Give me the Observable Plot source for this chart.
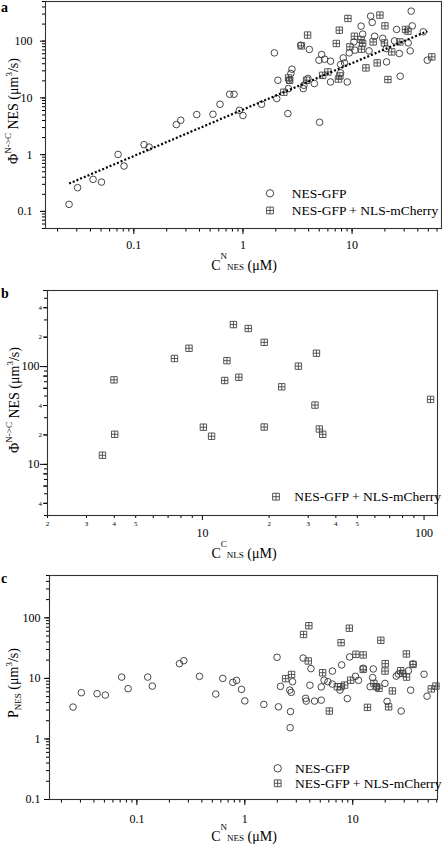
<!DOCTYPE html>
<html><head><meta charset="utf-8">
<script src="https://cdn.jsdelivr.net/npm/d3@7"></script>
<script src="https://cdn.jsdelivr.net/npm/@observablehq/plot@0.6"></script>
<style>
body{margin:0;background:#fff;}
#wrap{position:relative;width:442px;height:844px;overflow:hidden;}
#wrap svg{position:absolute;left:0;overflow:visible;}
</style></head><body><div id="wrap"></div>
<script>
// ---------- Panel a : Phi(N->C) vs C^N_NES ----------
const aGfpX = [0.0255,0.0305,0.0423,0.0505,0.0717,0.0813,0.124,0.138,0.245,0.269,0.377,0.531,0.616,0.755,0.828,0.927,1.0,1.48,1.94,2.04,2.09,2.58,2.61,2.66,2.75,2.81,3.38,3.57,3.62,3.94,4.06,4.51,4.97,5.04,5.26,5.60,6.35,6.35,7.85,7.85,8.30,8.54,9.03,9.42,10.4,10.6,12.1,12.5,14.3,14.8,15.3,16.1,19.1,20.6,20.7,24.5,25.6,27.1,27.6,32.7,34.1,34.8,35.6,44.9,48.9];
const aGfpY = [0.133,0.262,0.367,0.329,1.01,0.63,1.50,1.36,3.39,4.04,5.09,5.15,7.73,11.6,11.6,6.05,4.89,7.73,62.2,9.75,20.5,5.3,14.6,20.5,26.9,32.1,85,14.6,16.7,22.0,71.4,17.9,46.2,3.72,58.3,48.1,44.4,19.1,38.8,27.6,50.7,41.4,19.1,62.2,97,69.4,184,133,67.4,276,214,122,112,74.3,43.1,101,161,60.7,24.1,93.3,67.4,338,186,146,46.2];
const aMchX = [2.37,2.68,2.62,3.43,3.83,3.91,5.37,6.0,7.17,7.64,7.73,7.5,9.16,9.55,10.5,12.1,12.5,12.2,13.4,15.6,17.0,18.0,19.8,20.0,21.3,23.1,27.4,30.9,32.5,53.8];
const aMchY = [12.6,20.5,22.5,82.6,20.5,128,25,28.7,91,156,24.4,21.5,251,79.4,122,107,91,72.3,33.8,97,41.4,288,93,186,21.1,64.7,97,161,150,52.8];
const aFitX = [0.0255, 49];
const aFitY = [0.31, 150];

// ---------- Panel b : Phi(N->C) vs C^C_NLS ----------
const bMchX = [3.99,4.02,3.54,7.48,8.70,10.1,11.0,12.6,12.9,13.8,14.6,16.1,19.0,19.0,22.8,27.1,32.7,32.2,33.7,34.9,107];
const bMchY = [73.2,20.3,12.4,121,154,24.0,19.4,72.1,115,269,77.8,245,177,24.1,62.1,101,137,40.4,23.0,20.3,46.2];

// ---------- Panel c : P_NES vs C^N_NES ----------
const cGfpX = [0.0256,0.0306,0.0428,0.0510,0.0723,0.0829,0.126,0.139,0.248,0.272,0.380,0.538,0.625,0.774,0.838,0.932,1.0,1.50,1.99,2.05,2.14,2.61,2.69,2.65,2.63,2.77,3.47,3.66,3.71,4.01,4.10,4.43,5.11,5.11,5.43,5.89,6.48,6.47,7.61,7.89,8.91,9.36,10.6,11.3,12.5,15.5,15.3,14.5,16.7,19.9,20.8,25.3,26.5,32.8,36.2,34.4,45.8,48.8,28.1];
const cGfpY = [3.36,5.80,5.59,5.30,10.5,6.76,10.5,7.46,17.5,19.6,10.8,5.51,10.0,8.59,9.27,6.58,4.25,3.72,22.3,3.39,7.38,6.41,5.87,2.83,1.53,8.81,21.7,4.68,4.22,7.71,14.5,4.22,4.37,7.23,9.33,8.81,13.2,8.05,6.41,16.7,4.64,22.6,10.8,9.27,14.7,14.3,10.3,7.29,7.2,8.26,4.17,10.9,11.8,13.4,17.3,6.38,11.7,5.08,2.89];
const cMchX = [3.50,3.92,9.30,7.80,18.2,10.7,12.5,31.4,2.39,2.71,3.87,5.26,6.07,7.20,7.77,8.41,9.56,20.0,19.9,12.5,13.7,15.7,16.6,17.5,23.3,21.5,27.8,29.0,31.5,36.2,53.4,59.0];
const cMchY = [53.1,74.1,67.4,38.9,42.6,25.0,24.4,25.3,9.9,11.6,19.4,12.4,2.89,7.29,7.29,7.75,9.33,17.5,13.2,14.1,3.32,8.26,7.29,6.84,6.21,3.39,13.4,12.1,10.5,17.0,6.70,7.46];

// ---------- ticks & labels ----------
const aXTicks = [0.1, 1, 10];
const aYTicks = [0.1, 1, 10, 100];
const bXTicks = [10, 100];
const bXMinorLabeled = [2,3,4,5,6,7,8,9,20,30,40,50,60,70,80,90];
const bYTicks = [10, 100];
const bYMinorLabeled = [4,6,8,20,40,60,80,200,400,600];
const cXTicks = [0.1, 1, 10];
const cYTicks = [0.1, 1, 10, 100];
const legendLabels = ["NES-GFP", "NES-GFP + NLS-mCherry"];
const panelLetters = ["a", "b", "c"];

const FONT = '"Liberation Serif","Times New Roman",serif';
const wrap = document.getElementById("wrap");

const boxPlus = {
  draw(ctx, size) {
    const r = Math.sqrt(size / Math.PI);
    ctx.moveTo(-r, -r); ctx.lineTo(r, -r); ctx.lineTo(r, r); ctx.lineTo(-r, r); ctx.closePath();
    ctx.moveTo(0, -r); ctx.lineTo(0, r);
    ctx.moveTo(-r, 0); ctx.lineTo(r, 0);
  }
};

function pts(xs, ys) { return xs.map((x, i) => ({x, y: ys[i]})); }
function minorTicks(lo, hi) {
  const t = [];
  for (let e = Math.floor(Math.log10(lo)) - 1; e <= Math.ceil(Math.log10(hi)); e++) {
    for (let m = 1; m < 10; m++) {
      const v = +(m * Math.pow(10, e)).toPrecision(3);
      if (v >= lo * 0.999 && v <= hi * 1.001) t.push(v);
    }
  }
  return t;
}
const lead = d => String(Math.round(d / Math.pow(10, Math.floor(Math.log10(d) + 1e-9))));
const none = () => "";

function panel({top, height, mt, mb, ml, mr, xd, yd, marks}) {
  const svg = Plot.plot({
    width: 442, height, marginTop: mt, marginBottom: mb, marginLeft: ml, marginRight: mr,
    x: {type: "log", domain: xd, axis: null},
    y: {type: "log", domain: yd, axis: null},
    style: {fontFamily: FONT, fontSize: "12px", color: "#000", background: "none", overflow: "visible"},
    marks
  });
  svg.style.top = top + "px";
  wrap.appendChild(svg);
  return d3.select(svg);
}

function rich(sel, x, y, parts, rotate) {
  const t = sel.append("text")
    .attr("transform", `translate(${x},${y})` + (rotate ? " rotate(-90)" : ""))
    .attr("text-anchor", "middle").attr("font-family", FONT).attr("fill", "#000");
  let prev = 0;
  for (const p of parts) {
    const s = p.shift || 0;
    t.append("tspan").attr("dy", prev - s).attr("font-size", p.size).text(p.t);
    prev = s;
  }
}

function legend(sel, x, tx, rows) {
  rows.forEach(r => {
    if (r.kind === "circle") {
      sel.append("circle").attr("cx", x).attr("cy", r.y).attr("r", 3.7)
        .attr("fill", "none").attr("stroke", "#333").attr("stroke-width", 0.9);
    } else {
      sel.append("path").attr("transform", `translate(${x},${r.y})`)
        .attr("d", d3.symbol(boxPlus, Math.PI * 3.4 * 3.4)())
        .attr("fill", "none").attr("stroke", "#444").attr("stroke-width", 0.9);
    }
    sel.append("text").attr("x", tx).attr("y", r.y + 4.3).attr("font-family", FONT)
      .attr("text-anchor", "start")
      .attr("font-size", 13.5).attr("fill", "#000").text(r.label);
  });
}

function letter(sel, x, y, s) {
  sel.append("text").attr("x", x).attr("y", y).attr("font-family", FONT)
    .attr("text-anchor", "start")
    .attr("font-size", 14).attr("font-weight", "bold").attr("fill", "#000").text(s);
}

const circleOpts = {x: "x", y: "y", r: 3.3, stroke: "#333", strokeWidth: 0.9, fill: "none"};
const squareOpts = {x: "x", y: "y", r: 3.2, symbol: boxPlus, stroke: "#444", strokeWidth: 0.9, fill: "none"};

// ----- Panel a -----
const aXd = [0.0155, 66], aYd = [0.05, 500];
const sa = panel({
  top: 0, height: 280, mt: 1, mb: 52, ml: 45, mr: 1, xd: aXd, yd: aYd,
  marks: [
    Plot.axisY({ticks: minorTicks(...aYd), tickSize: 3, tickFormat: none, label: null, stroke: "#000"}),
    Plot.axisY({ticks: aYTicks, tickSize: 5, tickPadding: 8, tickFormat: d => String(d), fontSize: 12, label: null}),
    Plot.axisX({ticks: minorTicks(...aXd), tickSize: 3.5, tickFormat: none, label: null}),
    Plot.axisX({ticks: aXTicks, tickSize: 6, tickPadding: 6, tickFormat: d => String(d), fontSize: 12, label: null}),
    Plot.frame({stroke: "#333", strokeWidth: 1.1}),
    Plot.dot(pts(aGfpX, aGfpY), circleOpts),
    Plot.dot(pts(aMchX, aMchY), squareOpts),
    Plot.line(pts(aFitX, aFitY), {x: "x", y: "y", stroke: "#000", strokeWidth: 2.2, strokeDasharray: "2,2", strokeLinecap: "butt"})
  ]
});
letter(sa, 1, 12, panelLetters[0]);
rich(sa, 244, 270, [{t: "C", size: 14}, {t: "N", size: 9, shift: 11}, {t: "NES", size: 9, shift: 0}, {t: " (\u03bcM)", size: 14}]);
rich(sa, 18, 111, [{t: "\u03a6", size: 14}, {t: "N->C", size: 9, shift: 7}, {t: " NES (\u03bcm", size: 14}, {t: "3", size: 9, shift: 6}, {t: "/s)", size: 14}], true);
legend(sa, 270, 291.7, [{kind: "circle", y: 193.3, label: legendLabels[0]}, {kind: "square", y: 210.5, label: legendLabels[1]}]);

// ----- Panel b -----
const bXd = [2, 115], bYd = [3, 600];
const sb = panel({
  top: 280, height: 280, mt: 10, mb: 45, ml: 47, mr: 5, xd: bXd, yd: bYd,
  marks: [
    Plot.axisY({ticks: minorTicks(...bYd), tickSize: 3, tickFormat: none, label: null}),
    Plot.axisY({ticks: bYMinorLabeled, tickSize: 4, tickPadding: 1.5, tickFormat: lead, fontSize: 7, label: null}),
    Plot.axisY({ticks: bYTicks, tickSize: 7, tickPadding: 1, tickFormat: d => String(d), fontSize: 12, label: null}),
    Plot.axisX({ticks: bXMinorLabeled, tickSize: 3, tickPadding: 3, tickFormat: lead, fontSize: 7, label: null}),
    Plot.axisX({ticks: bXTicks, tickSize: 5, tickPadding: 8, tickFormat: d => String(d), fontSize: 12, label: null}),
    Plot.frame({stroke: "#333", strokeWidth: 1.1}),
    Plot.dot(pts(bMchX, bMchY), squareOpts)
  ]
});
letter(sb, 1, 18, panelLetters[1]);
rich(sb, 244, 278, [{t: "C", size: 14}, {t: "C", size: 9, shift: 11}, {t: "NLS", size: 9, shift: 0}, {t: " (\u03bcM)", size: 14}]);
rich(sb, 19, 120, [{t: "\u03a6", size: 14}, {t: "N->C", size: 9, shift: 7}, {t: " NES (\u03bcm", size: 14}, {t: "3", size: 9, shift: 6}, {t: "/s)", size: 14}], true);
legend(sb, 276, 294.3, [{kind: "square", y: 216.7, label: legendLabels[1]}]);

// ----- Panel c -----
const cXd = [0.0155, 61], cYd = [0.1, 500];
const sc = panel({
  top: 560, height: 284, mt: 15, mb: 45, ml: 49, mr: 5, xd: cXd, yd: cYd,
  marks: [
    Plot.axisY({ticks: minorTicks(...cYd), tickSize: 3, tickFormat: none, label: null}),
    Plot.axisY({ticks: cYTicks, tickSize: 5, tickPadding: 4, tickFormat: d => String(d), fontSize: 12, label: null}),
    Plot.axisX({ticks: minorTicks(...cXd), tickSize: 3.5, tickFormat: none, label: null}),
    Plot.axisX({ticks: cXTicks, tickSize: 6, tickPadding: 9, tickFormat: d => String(d), fontSize: 12, label: null}),
    Plot.frame({stroke: "#333", strokeWidth: 1.1}),
    Plot.dot(pts(cGfpX, cGfpY), circleOpts),
    Plot.dot(pts(cMchX, cMchY), squareOpts)
  ]
});
letter(sc, 1, 23, panelLetters[2]);
rich(sc, 244, 281, [{t: "C", size: 14}, {t: "N", size: 9, shift: 11}, {t: "NES", size: 9, shift: 0}, {t: " (\u03bcM)", size: 14}]);
rich(sc, 18, 123, [{t: "P", size: 14}, {t: "NES", size: 9, shift: -3}, {t: " (\u03bcm", size: 14}, {t: "3", size: 9, shift: 6}, {t: "/s)", size: 14}], true);
legend(sc, 277.7, 295, [{kind: "circle", y: 208.3, label: legendLabels[0]}, {kind: "square", y: 223.3, label: legendLabels[1]}]);
</script>
</body></html>
